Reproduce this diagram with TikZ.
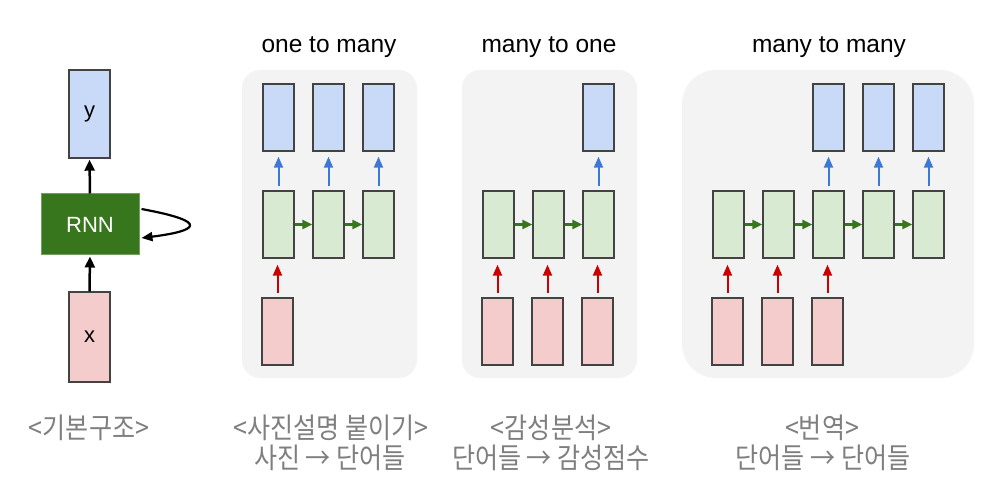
\documentclass[tikz,border=0pt]{standalone}
\usepackage{fontspec}
\setmainfont{Liberation Sans}
\newfontfamily\kr[FakeStretch=0.88]{Noto Sans CJK KR}
\usetikzlibrary{arrows.meta,calc}
\definecolor{panelgray}{HTML}{F3F3F3}
\definecolor{cellborder}{HTML}{434343}
\definecolor{cellblue}{HTML}{C9DAF8}
\definecolor{cellgreen}{HTML}{D9EAD3}
\definecolor{cellpink}{HTML}{F4CCCC}
\definecolor{arrblue}{HTML}{3C78D8}
\definecolor{arrgreen}{HTML}{38761D}
\definecolor{arrred}{HTML}{CC0000}
\definecolor{rnngreen}{HTML}{38761D}
\definecolor{capgray}{HTML}{7F7F7F}
\begin{document}
\begin{tikzpicture}[x=1pt,y=-1pt,
  panel/.style={fill=panelgray, draw=none, inner sep=0, rounded corners=18pt},
  cell/.style={draw=cellborder, line width=1.4pt, minimum width=31pt, minimum height=67pt, inner sep=0},
  cb/.style={cell, fill=cellblue},
  cg/.style={cell, fill=cellgreen},
  cpk/.style={cell, fill=cellpink},
  uparr/.style={line width=2pt, -{Triangle[length=11pt,width=9pt]}, shorten <=4pt},
  bluearr/.style={uparr, arrblue, shorten >=5pt},
  redarr/.style={uparr, arrred, shorten >=6pt},
  greenarr/.style={line width=2.4pt, arrgreen, -{Triangle[length=10pt,width=9pt]}},
  blackarr/.style={line width=2.5pt, black, -{Triangle[length=11pt,width=10pt]}},
  ttl/.style={font=\fontsize{24.5}{28}\selectfont, text=black, inner sep=0},
  krcap/.style={font=\kr\fontsize{28.5}{30}\selectfont, text=capgray, inner sep=0},
  bigcell/.style={draw=cellborder, line width=1.4pt, minimum width=41pt, inner sep=0, font=\fontsize{22}{24}\selectfont}
]
\useasboundingbox (0,0) rectangle (991,502);

% ---------- basic structure ----------
\node[bigcell, fill=cellblue, minimum height=88pt] (y) at (89.5,114) {y};
\node[draw=rnngreen!70!white, line width=1pt, fill=rnngreen, text=white, minimum width=98pt, minimum height=61pt, inner sep=0, font=\fontsize{22}{24}\selectfont] (rnn) at (90,224.5) {RNN};
\node[bigcell, fill=cellpink, minimum height=90pt] (x) at (89.5,337) {x};
\draw[blackarr, shorten >=1pt] (rnn.north) -- (y.south);
\draw[blackarr, shorten >=1pt] (x.north) -- (rnn.south);
\coordinate (ls) at ($(rnn.east)+(2,-15.5)$);
\coordinate (le) at ($(rnn.east)+(2,13.5)$);
\draw[line width=2.2pt, -{Triangle[length=11pt,width=9pt]}] (ls) .. controls (212,222) and (197,231) .. (le);

% ---------- panels ----------
\node[panel, minimum width=175pt, minimum height=308pt] (p1) at (329.5,224) {};
\node[panel, minimum width=175pt, minimum height=308pt] (p2) at (549.5,224) {};
\node[panel, rounded corners=34pt, minimum width=292pt, minimum height=308pt] (p3) at (828,224) {};

\node[ttl] (t1) at (329,47) {one to many};
\node[ttl] (t2) at (549,47) {many to one};
\node[ttl] (t3) at (829,47) {many to many};

% ---------- one to many ----------
\node[cb] (a1) at (278.5,117.5) {};
\node[cb] (a2) at (328.5,117.5) {};
\node[cb] (a3) at (378.5,117.5) {};
\node[cg] (ah1) at (278.5,224.5) {};
\node[cg] (ah2) at (328.5,224.5) {};
\node[cg] (ah3) at (378.5,224.5) {};
\node[cpk] (ax1) at (277.5,331.5) {};
\draw[bluearr] (ah1) -- (a1);
\draw[bluearr] (ah2) -- (a2);
\draw[bluearr] (ah3) -- (a3);
\draw[greenarr] (ah1) -- (ah2);
\draw[greenarr] (ah2) -- (ah3);
\draw[redarr] (ax1.north) -- (ax1.north |- ah1.south);

% ---------- many to one ----------
\node[cb] (b3) at (598.5,117.5) {};
\node[cg] (bh1) at (498.5,224.5) {};
\node[cg] (bh2) at (548.5,224.5) {};
\node[cg] (bh3) at (598.5,224.5) {};
\node[cpk] (bx1) at (497.5,331.5) {};
\node[cpk] (bx2) at (547.5,331.5) {};
\node[cpk] (bx3) at (597.5,331.5) {};
\draw[bluearr] (bh3) -- (b3);
\draw[greenarr] (bh1) -- (bh2);
\draw[greenarr] (bh2) -- (bh3);
\draw[redarr] (bx1.north) -- (bx1.north |- bh1.south);
\draw[redarr] (bx2.north) -- (bx2.north |- bh2.south);
\draw[redarr] (bx3.north) -- (bx3.north |- bh3.south);

% ---------- many to many ----------
\node[cb] (c3) at (828.5,117.5) {};
\node[cb] (c4) at (878.5,117.5) {};
\node[cb] (c5) at (928.5,117.5) {};
\node[cg] (ch1) at (728.5,224.5) {};
\node[cg] (ch2) at (778.5,224.5) {};
\node[cg] (ch3) at (828.5,224.5) {};
\node[cg] (ch4) at (878.5,224.5) {};
\node[cg] (ch5) at (928.5,224.5) {};
\node[cpk] (cx1) at (727.5,331.5) {};
\node[cpk] (cx2) at (777.5,331.5) {};
\node[cpk] (cx3) at (827.5,331.5) {};
\draw[bluearr] (ch3) -- (c3);
\draw[bluearr] (ch4) -- (c4);
\draw[bluearr] (ch5) -- (c5);
\draw[greenarr] (ch1) -- (ch2);
\draw[greenarr] (ch2) -- (ch3);
\draw[greenarr] (ch3) -- (ch4);
\draw[greenarr] (ch4) -- (ch5);
\draw[redarr] (cx1.north) -- (cx1.north |- ch1.south);
\draw[redarr] (cx2.north) -- (cx2.north |- ch2.south);
\draw[redarr] (cx3.north) -- (cx3.north |- ch3.south);

% ---------- captions ----------
\node[krcap] (k0) at (89,428) {<기본구조>};
\node[krcap] (k1) at (331,428) {<사진설명 붙이기>};
\node[krcap] (k1b) at (330,458) {사진 → 단어들};
\node[krcap] (k2) at (551,428) {<감성분석>};
\node[krcap] (k2b) at (551,458) {단어들 → 감성점수};
\node[krcap] (k3) at (822,428) {<번역>};
\node[krcap] (k3b) at (823,458) {단어들 → 단어들};
\end{tikzpicture}
\end{document}
